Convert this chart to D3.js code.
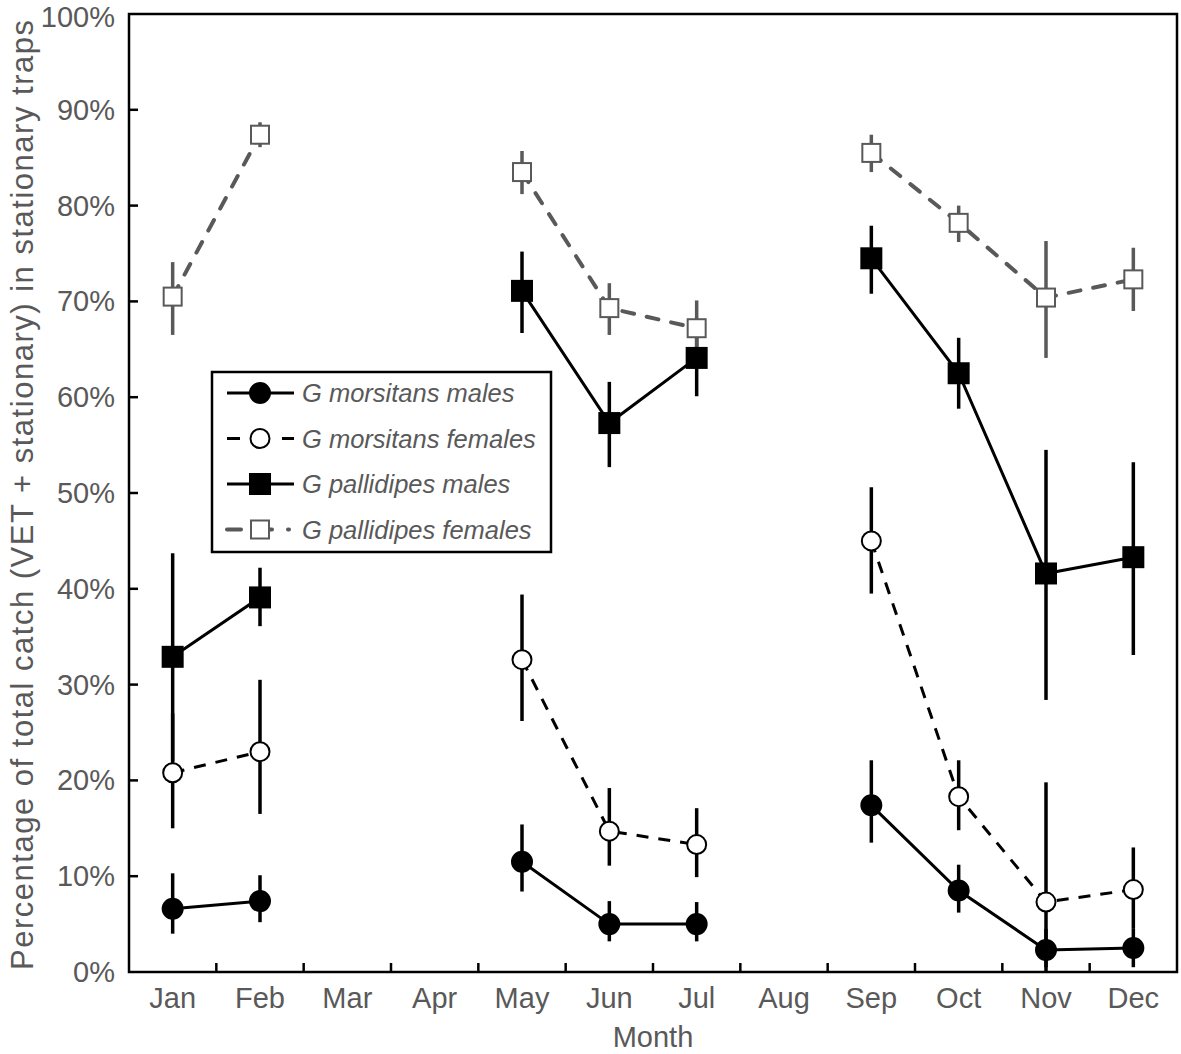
<!DOCTYPE html>
<html lang="en">
<head>
<meta charset="UTF-8">
<title>Stationary trap catch</title>
<script src="https://cdn.jsdelivr.net/npm/d3@7"></script>
<style>
    body { margin: 0; background: #fff; }
    text { font-family: "Liberation Sans", Arial, sans-serif; fill: #595959; }
</style>
</head>
<body>
<div id="main"></div>
<script>
    // months and series values (% of total catch), null = no data
    const months = ['Jan', 'Feb', 'Mar', 'Apr', 'May', 'Jun', 'Jul', 'Aug', 'Sep', 'Oct', 'Nov', 'Dec'];
    const yTicks = [0, 10, 20, 30, 40, 50, 60, 70, 80, 90, 100];

    const gmMales   = [6.6, 7.4, null, null, 11.5, 5.0, 5.0, null, 17.4, 8.5, 2.3, 2.5];
    const gmMalesLo = [4.0, 5.2, null, null, 8.4, 3.2, 3.2, null, 13.5, 6.2, 0.5, 0.5];
    const gmMalesHi = [10.3, 10.1, null, null, 15.4, 7.4, 7.3, null, 22.1, 11.2, 4.5, 4.5];

    const gmFemales   = [20.8, 23.0, null, null, 32.6, 14.7, 13.3, null, 45.0, 18.3, 7.3, 8.6];
    const gmFemalesLo = [15.0, 16.5, null, null, 26.2, 11.1, 9.9, null, 39.5, 14.8, 0, 4.5];
    const gmFemalesHi = [27.0, 30.5, null, null, 39.4, 19.2, 17.1, null, 50.6, 22.1, 19.8, 13.0];

    const gpMales   = [32.9, 39.1, null, null, 71.1, 57.3, 64.1, null, 74.5, 62.5, 41.6, 43.3];
    const gpMalesLo = [22.0, 36.1, null, null, 66.7, 52.7, 60.1, null, 70.8, 58.8, 28.4, 33.1];
    const gpMalesHi = [43.7, 42.2, null, null, 75.2, 61.6, 68.0, null, 77.9, 66.2, 54.5, 53.2];

    const gpFemales   = [70.5, 87.4, null, null, 83.5, 69.3, 67.2, null, 85.5, 78.2, 70.4, 72.3];
    const gpFemalesLo = [66.5, 86.1, null, null, 81.2, 66.5, 65.0, null, 83.5, 76.2, 64.1, 69.0];
    const gpFemalesHi = [74.1, 88.7, null, null, 85.7, 71.9, 70.1, null, 87.4, 80.0, 76.3, 75.6];

    const series = [
        {name: 'G morsitans males',    v: gmMales,   lo: gmMalesLo,   hi: gmMalesHi,   color: '#000',    dash: null,    legDash: null,               shape: 'circle', fill: '#000'},
        {name: 'G morsitans females',  v: gmFemales, lo: gmFemalesLo, hi: gmFemalesHi, color: '#000',    dash: '12,10', legDash: '13,42,13',         shape: 'circle', fill: '#fff'},
        {name: 'G pallidipes males',   v: gpMales,   lo: gpMalesLo,   hi: gpMalesHi,   color: '#000',    dash: null,    legDash: null,               shape: 'square', fill: '#000'},
        {name: 'G pallidipes females', v: gpFemales, lo: gpFemalesLo, hi: gpFemalesHi, color: '#595959', dash: '12,13', legDash: '14,28,3,16,1,40',  shape: 'square', fill: '#fff'}
    ];

    const W = 1181, H = 1054;
    const svg = d3.select('#main').append('svg')
        .attr('width', W).attr('height', H);

    const x = d3.scaleBand().domain(months).range([129, 1177]);
    const y = d3.scaleLinear().domain([0, 100]).range([972, 14]);
    const cx = m => x(m) + x.bandwidth() / 2;

    // frame (left + bottom axes, top + right border)
    svg.append('rect')
        .attr('x', x.range()[0]).attr('y', y(100))
        .attr('width', x.range()[1] - x.range()[0]).attr('height', y(0) - y(100))
        .attr('fill', 'none').attr('stroke', '#000').attr('stroke-width', 2.5);

    // inward ticks on the month boundaries
    svg.append('g').selectAll('line')
        .data(months.slice(1))
        .join('line')
        .attr('x1', m => x(m)).attr('x2', m => x(m))
        .attr('y1', y(0)).attr('y2', y(0) - 9)
        .attr('stroke', '#000').attr('stroke-width', 2.5);

    svg.append('g').selectAll('line')
        .data(yTicks.slice(1, -1))
        .join('line')
        .attr('x1', x.range()[0]).attr('x2', x.range()[0] + 9)
        .attr('y1', d => y(d)).attr('y2', d => y(d))
        .attr('stroke', '#000').attr('stroke-width', 2.5);

    // tick labels
    svg.append('g').selectAll('text')
        .data(months)
        .join('text')
        .attr('x', cx).attr('y', 1008)
        .attr('text-anchor', 'middle')
        .style('font-size', '29px')
        .text(d => d);

    svg.append('g').selectAll('text')
        .data(yTicks)
        .join('text')
        .attr('x', 115).attr('y', d => Math.max(y(d) + 10, 27))
        .attr('text-anchor', 'end')
        .style('font-size', '29px')
        .text(d => d + '%');

    // axis titles
    svg.append('text')
        .attr('x', (x.range()[0] + x.range()[1]) / 2).attr('y', 1047)
        .attr('text-anchor', 'middle')
        .style('font-size', '29px')
        .text('Month');

    svg.append('text')
        .attr('transform', `translate(33, ${(y(0) + y(100)) / 2 + 2}) rotate(-90)`)
        .attr('text-anchor', 'middle')
        .attr('textLength', 950)
        .attr('lengthAdjust', 'spacing')
        .style('font-size', '31px')
        .text('Percentage of total catch (VET + stationary) in stationary traps');

    const line = d3.line()
        .defined(d => d.v != null)
        .x(d => cx(d.m))
        .y(d => y(d.v));

    const pts = s => months.map((m, i) => ({m, v: s.v[i], lo: s.lo[i], hi: s.hi[i]}));

    // connecting lines
    series.forEach(s => {
        svg.append('path')
            .datum(pts(s))
            .attr('d', line)
            .attr('fill', 'none')
            .attr('stroke', s.color)
            .attr('stroke-width', s.color !== '#000' ? 4 : 3)
            .attr('stroke-dasharray', s.dash)
            .attr('stroke-linecap', s.color !== '#000' ? 'round' : 'butt');
    });

    // error bars
    series.forEach(s => {
        svg.append('g').selectAll('line')
            .data(pts(s).filter(d => d.v != null))
            .join('line')
            .attr('x1', d => cx(d.m)).attr('x2', d => cx(d.m))
            .attr('y1', d => y(d.lo)).attr('y2', d => y(d.hi))
            .attr('stroke', s.color).attr('stroke-width', 3.5);
    });

    // markers
    function drawMarker(g, s, px, py) {
        if (s.shape === 'circle') {
            g.append('circle')
                .attr('cx', px).attr('cy', py).attr('r', s.fill === '#000' ? 10 : 9.5)
                .attr('fill', s.fill).attr('stroke', s.color).attr('stroke-width', 2);
        } else {
            const half = s.fill === '#000' ? 10 : 9;
            g.append('rect')
                .attr('x', px - half).attr('y', py - half)
                .attr('width', half * 2).attr('height', half * 2)
                .attr('fill', s.fill).attr('stroke', s.color).attr('stroke-width', 2);
        }
    }

    series.forEach(s => {
        const g = svg.append('g');
        pts(s).filter(d => d.v != null).forEach(d => drawMarker(g, s, cx(d.m), y(d.v)));
    });

    // legend
    const legend = svg.append('g');
    legend.append('rect')
        .attr('x', 212).attr('y', 372).attr('width', 339).attr('height', 180)
        .attr('fill', '#fff').attr('stroke', '#000').attr('stroke-width', 2.5);

    series.forEach((s, i) => {
        const ly = 393 + i * 45.5;
        legend.append('line')
            .attr('x1', 227).attr('x2', 294).attr('y1', ly).attr('y2', ly)
            .attr('stroke', s.color)
            .attr('stroke-width', s.color !== '#000' ? 4 : 3)
            .attr('stroke-linecap', s.color !== '#000' ? 'round' : 'butt')
            .attr('stroke-dasharray', s.legDash);
        drawMarker(legend, s, 260, ly);
        legend.append('text')
            .attr('x', 302).attr('y', ly + 9)
            .style('font-size', '25.5px')
            .style('font-style', 'italic')
            .text(s.name);
    });
</script>
</body>
</html>
